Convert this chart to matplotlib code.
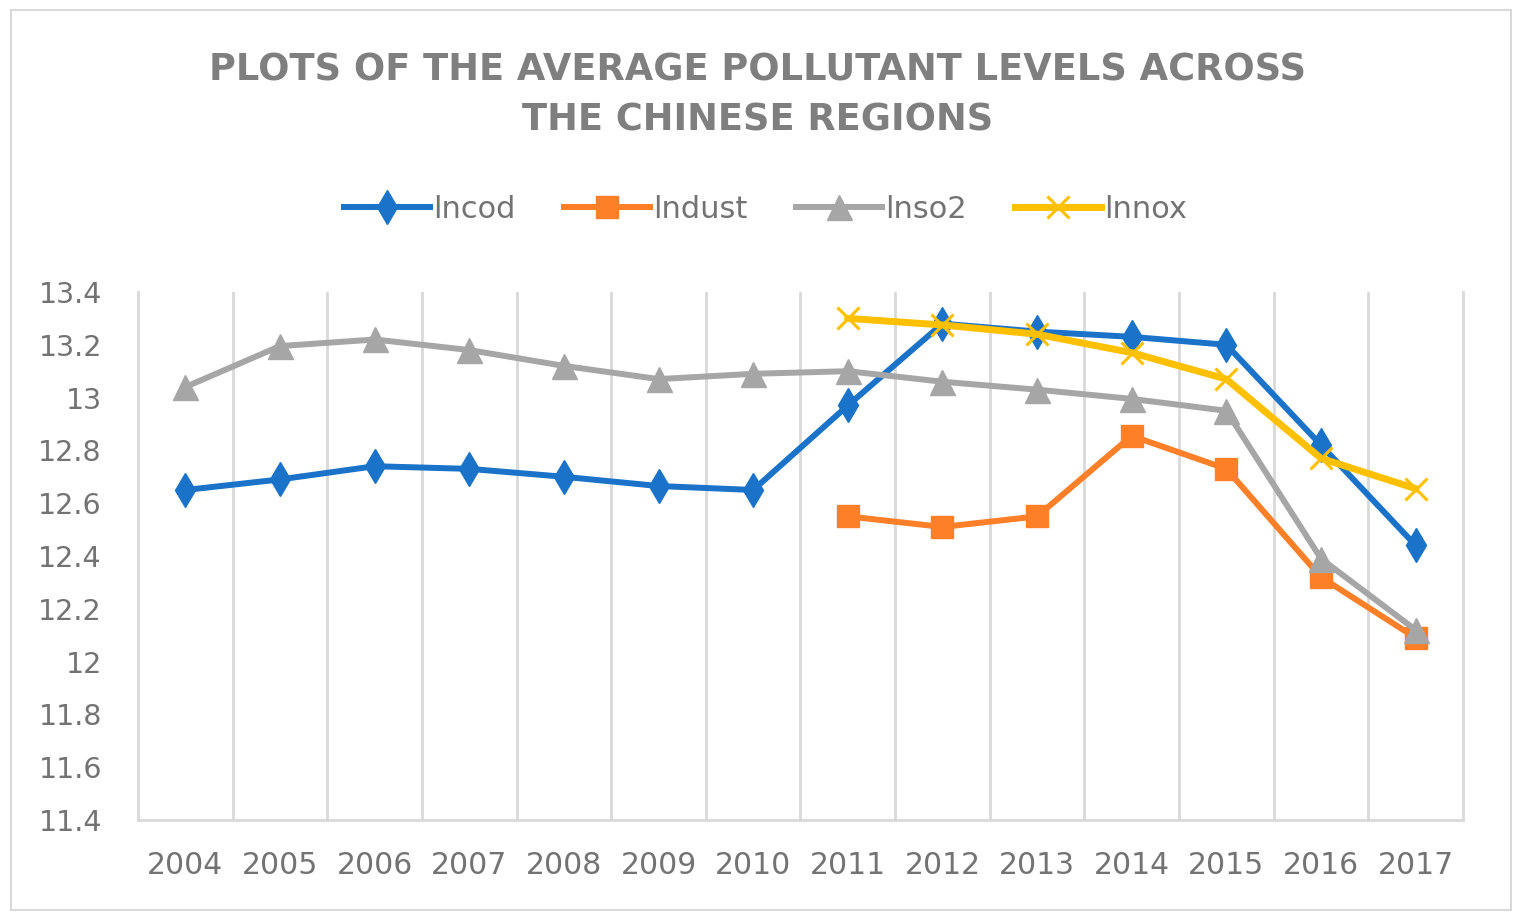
import numpy as np
import matplotlib
matplotlib.use("Agg")
import matplotlib.pyplot as plt
from matplotlib.patches import Rectangle

# data
years = ["2004", "2005", "2006", "2007", "2008", "2009", "2010",
         "2011", "2012", "2013", "2014", "2015", "2016", "2017"]
lncod = [12.65, 12.69, 12.74, 12.73, 12.70, 12.665, 12.65,
         12.97, 13.28, 13.25, 13.23, 13.20, 12.82, 12.44]
lndust = [None] * 7 + [12.55, 12.51, 12.55, 12.855, 12.73, 12.32, 12.09]
lnso2 = [13.04, 13.195, 13.22, 13.18, 13.12, 13.07, 13.09,
         13.10, 13.06, 13.03, 12.995, 12.95, 12.39, 12.12]
lnnox = [None] * 7 + [13.30, 13.275, 13.24, 13.17, 13.07, 12.77, 12.655]

yticks = [11.4, 11.6, 11.8, 12, 12.2, 12.4, 12.6, 12.8, 13, 13.2, 13.4]
ytick_labels = ["11.4", "11.6", "11.8", "12", "12.2", "12.4", "12.6",
                "12.8", "13", "13.2", "13.4"]

text_grey = "#737373"
title_grey = "#7f7f7f"
grid_grey = "#d9d9d9"


def to_arr(vals):
    return np.array([np.nan if v is None else v for v in vals], dtype=float)


fig = plt.figure(figsize=(15.22, 9.19), dpi=100)
# outer chart border
fig.patches.append(Rectangle((0.007, 0.01), 0.986, 0.979, transform=fig.transFigure,
                             fill=False, edgecolor="#d9d9d9", linewidth=1.5))

ax = fig.add_axes([0.0907, 0.1077, 0.8705, 0.5746])
x = np.arange(len(years))

ax.plot(x, to_arr(lncod), color="#1a73c8", lw=4.3, marker="d", ms=17,
        label="lncod", zorder=3)
ax.plot(x, to_arr(lndust), color="#fd7f28", lw=4.3, marker="s", ms=16,
        label="lndust", zorder=3)
ax.plot(x, to_arr(lnso2), color="#a6a6a6", lw=4.3, marker="^", ms=18,
        label="lnso2", zorder=3)
ax.plot(x, to_arr(lnnox), color="#ffc000", lw=5, marker="x", ms=16, mew=2.2,
        label="lnnox", zorder=3)

ax.set_xlim(-0.5, len(years) - 0.5)
ax.set_ylim(11.4, 13.4)
ax.set_xticks(x)
ax.set_xticklabels(years)
ax.set_yticks(yticks)
ax.set_yticklabels(ytick_labels)
# vertical gridlines between categories, like Excel
ax.set_xticks(np.arange(0.5, len(years) - 1, 1.0), minor=True)
ax.grid(True, axis="x", which="minor", color=grid_grey, lw=2)
ax.tick_params(axis="both", which="both", length=0, colors=text_grey)
ax.tick_params(axis="x", pad=22, labelsize=21.5)
ax.tick_params(axis="y", pad=26, labelsize=20.5)
for s in ["left", "right", "bottom"]:
    ax.spines[s].set_color(grid_grey)
    ax.spines[s].set_linewidth(2)
ax.spines["top"].set_visible(False)

fig.text(0.498, 0.924, "PLOTS OF THE AVERAGE POLLUTANT LEVELS ACROSS",
         ha="center", va="center", fontsize=26.5, fontweight="bold", color=title_grey)
fig.text(0.498, 0.869, "THE CHINESE REGIONS",
         ha="center", va="center", fontsize=26.5, fontweight="bold", color=title_grey)

fig.legend(loc="center", bbox_to_anchor=(0.503, 0.772), ncol=4, frameon=False,
           fontsize=22, labelcolor=text_grey, handlelength=2.8,
           handletextpad=0.1, columnspacing=1.6)

fig.savefig("out.png", dpi=100)
